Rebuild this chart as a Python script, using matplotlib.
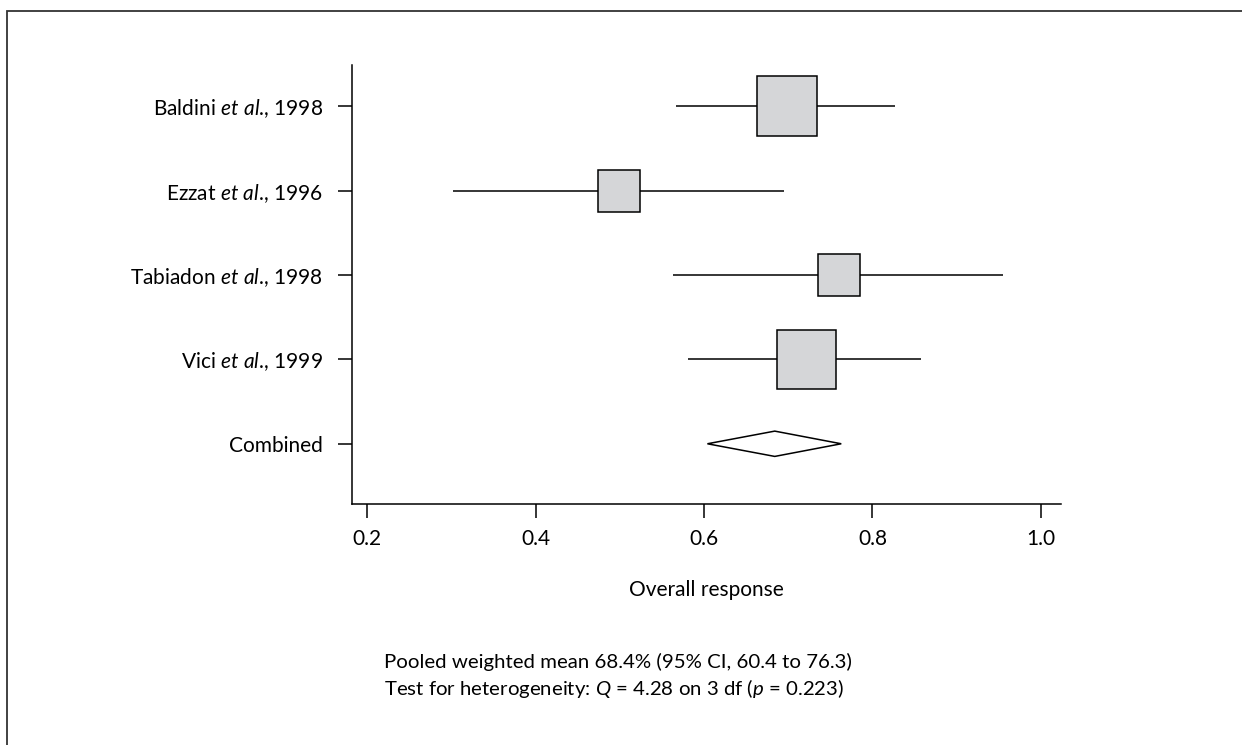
import matplotlib.pyplot as plt
from matplotlib.patches import Polygon, Rectangle


# ======================================================
# STUDY DATA
# ======================================================
studies = [
    r"Baldini $\mathit{et\ al}$., 1998",
    r"Ezzat $\mathit{et\ al}$., 1996",
    r"Tabiadon $\mathit{et\ al}$., 1998",
    r"Vici $\mathit{et\ al}$., 1999",
]
estimate = [0.699, 0.499, 0.760, 0.721]
ci_low = [0.567, 0.302, 0.563, 0.581]
ci_high = [0.827, 0.695, 0.955, 0.858]

# pooled result
pooled_label = "Combined"
pooled_estimate = 0.684
pooled_low = 0.604
pooled_high = 0.763

x_ticks = [0.2, 0.4, 0.6, 0.8, 1.0]

# box side for each study (pixels), reflects its weight
box_px = [60, 42, 42, 59]

DPI = 100
FONT_SIZE = 15

# ======================================================
# FONTS
# ======================================================
plt.rcParams['font.family'] = ['Lato', 'DejaVu Sans']
plt.rcParams['mathtext.fontset'] = 'custom'
plt.rcParams['mathtext.rm'] = 'Lato'
plt.rcParams['mathtext.it'] = 'Lato:italic'
plt.rcParams['font.size'] = FONT_SIZE

# ======================================================
# FIGURE
# ======================================================
fig = plt.figure(figsize=(12.42, 7.45), dpi=DPI)

# frame round the figure (right and bottom run off the edge)
fig.patches.append(Rectangle(
    (7 / 1242, -0.1), 1.2, 1.1 - 11 / 745,
    transform=fig.transFigure, fill=False,
    edgecolor='#333333', linewidth=1.3
))

ax = fig.add_axes([351.7 / 1242, 1 - 504 / 745,
                   (1061 - 351.7) / 1242, (504 - 65) / 745])

n = len(studies)
rows = list(range(n + 1, 1, -1))

# confidence interval lines
ax.hlines(rows, ci_low, ci_high, color='black', linewidth=1.1)

# weighted boxes
for y, est, size in zip(rows, estimate, box_px):
    ax.plot(est, y, marker='s', markersize=size * 72 / DPI,
            markerfacecolor='#d5d6d8', markeredgecolor='black',
            markeredgewidth=1.1, linestyle='none')

# pooled diamond
half_h = 0.15
ax.add_patch(Polygon(
    [(pooled_low, 1), (pooled_estimate, 1 + half_h),
     (pooled_high, 1), (pooled_estimate, 1 - half_h)],
    closed=True, facecolor='white', edgecolor='black', linewidth=1.1
))

# axes styling
ax.set_xlim(0.1815, 1.024)
ax.set_ylim(0.286, 5.49)
ax.set_xticks(x_ticks)
ax.set_xticklabels([f"{t:.1f}" for t in x_ticks])
ax.set_yticks(rows + [1])
ax.set_yticklabels(studies + [pooled_label])

for side in ['top', 'right']:
    ax.spines[side].set_visible(False)
for side in ['left', 'bottom']:
    ax.spines[side].set_linewidth(1.1)

ax.tick_params(axis='both', length=10, width=1.1, labelsize=FONT_SIZE)
ax.tick_params(axis='x', pad=8)
ax.tick_params(axis='y', pad=10.5)

ax.set_xlabel("Overall response", fontsize=FONT_SIZE, labelpad=22)

# summary notes
fig.text(384 / 1242, 1 - 662 / 745,
         "Pooled weighted mean 68.4% (95% CI, 60.4 to 76.3)",
         fontsize=14.7, ha='left', va='center')
fig.text(384 / 1242, 1 - 688 / 745,
         r"Test for heterogeneity: $\mathit{Q}$ = 4.28 on 3 df "
         r"($\mathit{p}$ = 0.223)",
         fontsize=14.7, ha='left', va='center')

fig.savefig("out.png", dpi=DPI)
